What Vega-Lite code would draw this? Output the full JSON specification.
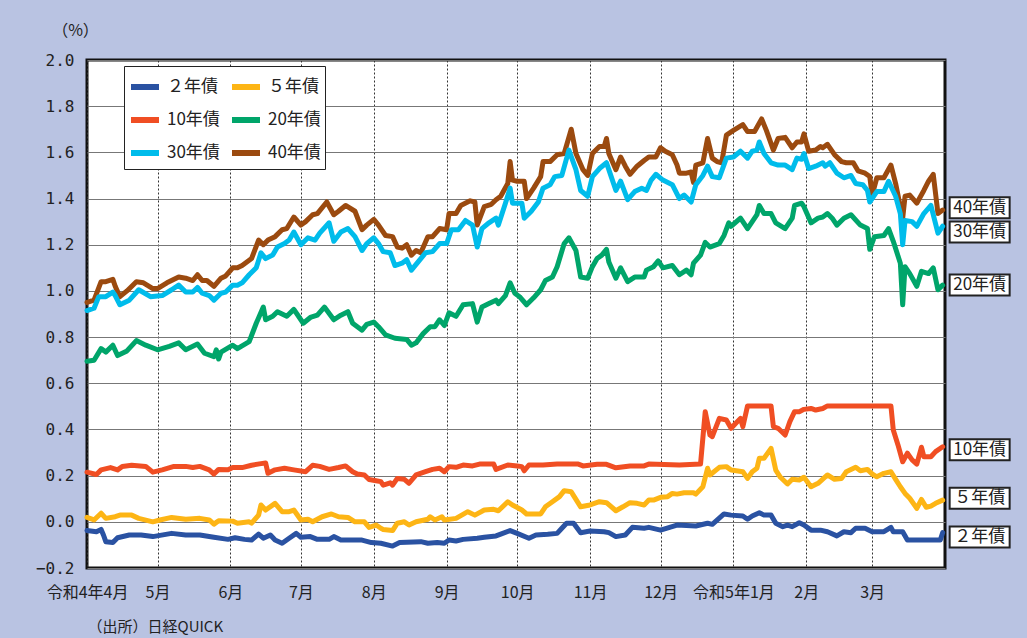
{
"$schema":"https://vega.github.io/schema/vega-lite/v6.json",
"width":858,"height":508,
"autosize":{"type":"none"},
"padding":{"left":87,"top":60,"right":82,"bottom":70},
"background":"#B9C3E2",
"config":{"view":{"fill":"white","stroke":"#111","strokeWidth":3},"font":"Noto Sans CJK JP"},
"datasets":{
"labels":[
{"s":"40年債","d":"2023-03-31","v":1.36},
{"s":"30年債","d":"2023-03-31","v":1.255},
{"s":"20年債","d":"2023-03-31","v":1.026},
{"s":"10年債","d":"2023-03-31","v":0.312},
{"s":"５年債","d":"2023-03-31","v":0.102},
{"s":"２年債","d":"2023-03-31","v":-0.066}
],
"yields":[
{"s":"40年債","d":"2022-04-01","v":0.95},{"s":"40年債","d":"2022-04-04","v":0.96},{"s":"40年債","d":"2022-04-07","v":1.04},{"s":"40年債","d":"2022-04-09","v":1.04},{"s":"40年債","d":"2022-04-12","v":1.05},{"s":"40年債","d":"2022-04-13","v":1.02},{"s":"40年債","d":"2022-04-15","v":0.975},{"s":"40年債","d":"2022-04-18","v":1.0},{"s":"40年債","d":"2022-04-22","v":1.04},{"s":"40年債","d":"2022-04-25","v":1.035},{"s":"40年債","d":"2022-04-29","v":1.01},{"s":"40年債","d":"2022-05-01","v":1.01},{"s":"40年債","d":"2022-05-05","v":1.035},{"s":"40年債","d":"2022-05-10","v":1.06},{"s":"40年債","d":"2022-05-13","v":1.055},{"s":"40年債","d":"2022-05-16","v":1.045},{"s":"40年債","d":"2022-05-18","v":1.07},{"s":"40年債","d":"2022-05-20","v":1.045},{"s":"40年債","d":"2022-05-22","v":1.045},{"s":"40年債","d":"2022-05-25","v":1.02},{"s":"40年債","d":"2022-05-28","v":1.055},{"s":"40年債","d":"2022-05-30","v":1.065},{"s":"40年債","d":"2022-06-02","v":1.1},{"s":"40年債","d":"2022-06-04","v":1.1},{"s":"40年債","d":"2022-06-06","v":1.11},{"s":"40年債","d":"2022-06-10","v":1.14},{"s":"40年債","d":"2022-06-13","v":1.22},{"s":"40年債","d":"2022-06-15","v":1.2},{"s":"40年債","d":"2022-06-17","v":1.22},{"s":"40年債","d":"2022-06-20","v":1.235},{"s":"40年債","d":"2022-06-23","v":1.265},{"s":"40年債","d":"2022-06-25","v":1.27},{"s":"40年債","d":"2022-06-28","v":1.32},{"s":"40年債","d":"2022-07-01","v":1.285},{"s":"40年債","d":"2022-07-03","v":1.3},{"s":"40年債","d":"2022-07-06","v":1.33},{"s":"40年債","d":"2022-07-08","v":1.335},{"s":"40年債","d":"2022-07-12","v":1.385},{"s":"40年債","d":"2022-07-15","v":1.33},{"s":"40年債","d":"2022-07-17","v":1.345},{"s":"40年債","d":"2022-07-20","v":1.37},{"s":"40年債","d":"2022-07-24","v":1.345},{"s":"40年債","d":"2022-07-27","v":1.265},{"s":"40年債","d":"2022-07-29","v":1.285},{"s":"40年債","d":"2022-08-01","v":1.31},{"s":"40年債","d":"2022-08-03","v":1.285},{"s":"40年債","d":"2022-08-06","v":1.24},{"s":"40年債","d":"2022-08-09","v":1.235},{"s":"40年債","d":"2022-08-11","v":1.19},{"s":"40年債","d":"2022-08-13","v":1.185},{"s":"40年債","d":"2022-08-15","v":1.2},{"s":"40年債","d":"2022-08-17","v":1.155},{"s":"40年債","d":"2022-08-19","v":1.175},{"s":"40年債","d":"2022-08-21","v":1.165},{"s":"40年債","d":"2022-08-24","v":1.235},{"s":"40年債","d":"2022-08-26","v":1.235},{"s":"40年債","d":"2022-08-29","v":1.27},{"s":"40年債","d":"2022-09-01","v":1.265},{"s":"40年債","d":"2022-09-02","v":1.335},{"s":"40年債","d":"2022-09-05","v":1.335},{"s":"40年債","d":"2022-09-07","v":1.37},{"s":"40年債","d":"2022-09-11","v":1.39},{"s":"40年債","d":"2022-09-13","v":1.385},{"s":"40年債","d":"2022-09-14","v":1.285},{"s":"40年債","d":"2022-09-17","v":1.365},{"s":"40年債","d":"2022-09-20","v":1.375},{"s":"40年債","d":"2022-09-22","v":1.395},{"s":"40年債","d":"2022-09-24","v":1.41},{"s":"40年債","d":"2022-09-27","v":1.465},{"s":"40年債","d":"2022-09-28","v":1.56},{"s":"40年債","d":"2022-09-29","v":1.48},{"s":"40年債","d":"2022-10-01","v":1.475},{"s":"40年債","d":"2022-10-04","v":1.475},{"s":"40年債","d":"2022-10-05","v":1.4},{"s":"40年債","d":"2022-10-08","v":1.445},{"s":"40年債","d":"2022-10-11","v":1.495},{"s":"40年債","d":"2022-10-12","v":1.56},{"s":"40年債","d":"2022-10-15","v":1.56},{"s":"40年債","d":"2022-10-18","v":1.59},{"s":"40年債","d":"2022-10-21","v":1.595},{"s":"40年債","d":"2022-10-24","v":1.7},{"s":"40年債","d":"2022-10-26","v":1.595},{"s":"40年債","d":"2022-10-29","v":1.525},{"s":"40年債","d":"2022-10-31","v":1.5},{"s":"40年債","d":"2022-11-02","v":1.595},{"s":"40年債","d":"2022-11-05","v":1.625},{"s":"40年債","d":"2022-11-07","v":1.625},{"s":"40年債","d":"2022-11-08","v":1.66},{"s":"40年債","d":"2022-11-09","v":1.595},{"s":"40年債","d":"2022-11-12","v":1.525},{"s":"40年債","d":"2022-11-14","v":1.58},{"s":"40年債","d":"2022-11-16","v":1.54},{"s":"40年債","d":"2022-11-18","v":1.505},{"s":"40年債","d":"2022-11-21","v":1.54},{"s":"40年債","d":"2022-11-24","v":1.565},{"s":"40年債","d":"2022-11-26","v":1.58},{"s":"40年債","d":"2022-11-29","v":1.58},{"s":"40年債","d":"2022-12-01","v":1.62},{"s":"40年債","d":"2022-12-03","v":1.605},{"s":"40年債","d":"2022-12-06","v":1.59},{"s":"40年債","d":"2022-12-08","v":1.545},{"s":"40年債","d":"2022-12-09","v":1.51},{"s":"40年債","d":"2022-12-12","v":1.51},{"s":"40年債","d":"2022-12-14","v":1.515},{"s":"40年債","d":"2022-12-15","v":1.47},{"s":"40年債","d":"2022-12-16","v":1.545},{"s":"40年債","d":"2022-12-19","v":1.555},{"s":"40年債","d":"2022-12-21","v":1.66},{"s":"40年債","d":"2022-12-23","v":1.575},{"s":"40年債","d":"2022-12-25","v":1.56},{"s":"40年債","d":"2022-12-27","v":1.555},{"s":"40年債","d":"2022-12-29","v":1.675},{"s":"40年債","d":"2023-01-01","v":1.695},{"s":"40年債","d":"2023-01-05","v":1.72},{"s":"40年債","d":"2023-01-07","v":1.69},{"s":"40年債","d":"2023-01-10","v":1.69},{"s":"40年債","d":"2023-01-13","v":1.745},{"s":"40年債","d":"2023-01-15","v":1.695},{"s":"40年債","d":"2023-01-18","v":1.61},{"s":"40年債","d":"2023-01-20","v":1.66},{"s":"40年債","d":"2023-01-23","v":1.665},{"s":"40年債","d":"2023-01-26","v":1.62},{"s":"40年債","d":"2023-01-28","v":1.645},{"s":"40年債","d":"2023-01-30","v":1.645},{"s":"40年債","d":"2023-01-31","v":1.68},{"s":"40年債","d":"2023-02-02","v":1.605},{"s":"40年債","d":"2023-02-05","v":1.61},{"s":"40年債","d":"2023-02-07","v":1.625},{"s":"40年債","d":"2023-02-08","v":1.62},{"s":"40年債","d":"2023-02-10","v":1.635},{"s":"40年債","d":"2023-02-13","v":1.59},{"s":"40年債","d":"2023-02-16","v":1.56},{"s":"40年債","d":"2023-02-18","v":1.555},{"s":"40年債","d":"2023-02-21","v":1.555},{"s":"40年債","d":"2023-02-23","v":1.52},{"s":"40年債","d":"2023-02-26","v":1.51},{"s":"40年債","d":"2023-02-28","v":1.495},{"s":"40年債","d":"2023-03-01","v":1.415},{"s":"40年債","d":"2023-03-03","v":1.49},{"s":"40年債","d":"2023-03-06","v":1.49},{"s":"40年債","d":"2023-03-09","v":1.545},{"s":"40年債","d":"2023-03-11","v":1.465},{"s":"40年債","d":"2023-03-13","v":1.365},{"s":"40年債","d":"2023-03-14","v":1.315},{"s":"40年債","d":"2023-03-15","v":1.41},{"s":"40年債","d":"2023-03-17","v":1.415},{"s":"40年債","d":"2023-03-20","v":1.38},{"s":"40年債","d":"2023-03-23","v":1.435},{"s":"40年債","d":"2023-03-25","v":1.475},{"s":"40年債","d":"2023-03-27","v":1.505},{"s":"40年債","d":"2023-03-29","v":1.335},{"s":"40年債","d":"2023-03-31","v":1.35},
{"s":"30年債","d":"2022-04-01","v":0.915},{"s":"30年債","d":"2022-04-04","v":0.925},{"s":"30年債","d":"2022-04-06","v":0.975},{"s":"30年債","d":"2022-04-09","v":0.975},{"s":"30年債","d":"2022-04-12","v":0.995},{"s":"30年債","d":"2022-04-13","v":0.98},{"s":"30年債","d":"2022-04-15","v":0.94},{"s":"30年債","d":"2022-04-19","v":0.96},{"s":"30年債","d":"2022-04-23","v":1.005},{"s":"30年債","d":"2022-04-28","v":0.975},{"s":"30年債","d":"2022-05-03","v":0.98},{"s":"30年債","d":"2022-05-07","v":1.005},{"s":"30年債","d":"2022-05-10","v":1.025},{"s":"30年債","d":"2022-05-13","v":0.995},{"s":"30年債","d":"2022-05-16","v":0.995},{"s":"30年債","d":"2022-05-18","v":1.015},{"s":"30年債","d":"2022-05-20","v":0.99},{"s":"30年債","d":"2022-05-23","v":0.98},{"s":"30年債","d":"2022-05-25","v":0.96},{"s":"30年債","d":"2022-05-28","v":0.99},{"s":"30年債","d":"2022-05-30","v":0.995},{"s":"30年債","d":"2022-06-02","v":1.025},{"s":"30年債","d":"2022-06-04","v":1.025},{"s":"30年債","d":"2022-06-06","v":1.035},{"s":"30年債","d":"2022-06-09","v":1.07},{"s":"30年債","d":"2022-06-12","v":1.1},{"s":"30年債","d":"2022-06-14","v":1.165},{"s":"30年債","d":"2022-06-16","v":1.14},{"s":"30年債","d":"2022-06-19","v":1.155},{"s":"30年債","d":"2022-06-21","v":1.19},{"s":"30年債","d":"2022-06-24","v":1.205},{"s":"30年債","d":"2022-06-26","v":1.22},{"s":"30年債","d":"2022-06-28","v":1.255},{"s":"30年債","d":"2022-07-01","v":1.2},{"s":"30年債","d":"2022-07-04","v":1.23},{"s":"30年債","d":"2022-07-07","v":1.22},{"s":"30年債","d":"2022-07-09","v":1.25},{"s":"30年債","d":"2022-07-13","v":1.295},{"s":"30年債","d":"2022-07-15","v":1.215},{"s":"30年債","d":"2022-07-18","v":1.255},{"s":"30年債","d":"2022-07-21","v":1.27},{"s":"30年債","d":"2022-07-24","v":1.235},{"s":"30年債","d":"2022-07-27","v":1.175},{"s":"30年債","d":"2022-07-29","v":1.205},{"s":"30年債","d":"2022-08-01","v":1.23},{"s":"30年債","d":"2022-08-03","v":1.205},{"s":"30年債","d":"2022-08-05","v":1.17},{"s":"30年債","d":"2022-08-08","v":1.165},{"s":"30年債","d":"2022-08-10","v":1.11},{"s":"30年債","d":"2022-08-13","v":1.12},{"s":"30年債","d":"2022-08-15","v":1.135},{"s":"30年債","d":"2022-08-17","v":1.09},{"s":"30年債","d":"2022-08-19","v":1.115},{"s":"30年債","d":"2022-08-23","v":1.165},{"s":"30年債","d":"2022-08-26","v":1.17},{"s":"30年債","d":"2022-08-29","v":1.205},{"s":"30年債","d":"2022-09-01","v":1.205},{"s":"30年債","d":"2022-09-03","v":1.265},{"s":"30年債","d":"2022-09-06","v":1.265},{"s":"30年債","d":"2022-09-09","v":1.305},{"s":"30年債","d":"2022-09-12","v":1.285},{"s":"30年債","d":"2022-09-14","v":1.19},{"s":"30年債","d":"2022-09-16","v":1.27},{"s":"30年債","d":"2022-09-19","v":1.295},{"s":"30年債","d":"2022-09-22","v":1.315},{"s":"30年債","d":"2022-09-23","v":1.285},{"s":"30年債","d":"2022-09-26","v":1.38},{"s":"30年債","d":"2022-09-28","v":1.445},{"s":"30年債","d":"2022-09-29","v":1.38},{"s":"30年債","d":"2022-10-03","v":1.38},{"s":"30年債","d":"2022-10-04","v":1.315},{"s":"30年債","d":"2022-10-07","v":1.345},{"s":"30年債","d":"2022-10-10","v":1.385},{"s":"30年債","d":"2022-10-12","v":1.445},{"s":"30年債","d":"2022-10-15","v":1.46},{"s":"30年債","d":"2022-10-17","v":1.495},{"s":"30年債","d":"2022-10-20","v":1.5},{"s":"30年債","d":"2022-10-23","v":1.61},{"s":"30年債","d":"2022-10-26","v":1.525},{"s":"30年債","d":"2022-10-28","v":1.435},{"s":"30年債","d":"2022-10-31","v":1.41},{"s":"30年債","d":"2022-11-02","v":1.495},{"s":"30年債","d":"2022-11-05","v":1.53},{"s":"30年債","d":"2022-11-08","v":1.555},{"s":"30年債","d":"2022-11-10","v":1.495},{"s":"30年債","d":"2022-11-12","v":1.435},{"s":"30年債","d":"2022-11-14","v":1.475},{"s":"30年債","d":"2022-11-17","v":1.395},{"s":"30年債","d":"2022-11-20","v":1.43},{"s":"30年債","d":"2022-11-23","v":1.445},{"s":"30年債","d":"2022-11-25","v":1.435},{"s":"30年債","d":"2022-11-27","v":1.48},{"s":"30年債","d":"2022-11-29","v":1.505},{"s":"30年債","d":"2022-12-02","v":1.48},{"s":"30年債","d":"2022-12-06","v":1.46},{"s":"30年債","d":"2022-12-09","v":1.4},{"s":"30年債","d":"2022-12-11","v":1.415},{"s":"30年債","d":"2022-12-14","v":1.385},{"s":"30年債","d":"2022-12-16","v":1.46},{"s":"30年債","d":"2022-12-19","v":1.5},{"s":"30年債","d":"2022-12-21","v":1.54},{"s":"30年債","d":"2022-12-23","v":1.495},{"s":"30年債","d":"2022-12-26","v":1.49},{"s":"30年債","d":"2022-12-29","v":1.575},{"s":"30年債","d":"2023-01-01","v":1.58},{"s":"30年債","d":"2023-01-04","v":1.605},{"s":"30年債","d":"2023-01-07","v":1.575},{"s":"30年債","d":"2023-01-09","v":1.605},{"s":"30年債","d":"2023-01-11","v":1.61},{"s":"30年債","d":"2023-01-12","v":1.645},{"s":"30年債","d":"2023-01-14","v":1.595},{"s":"30年債","d":"2023-01-17","v":1.555},{"s":"30年債","d":"2023-01-20","v":1.545},{"s":"30年債","d":"2023-01-23","v":1.545},{"s":"30年債","d":"2023-01-26","v":1.525},{"s":"30年債","d":"2023-01-28","v":1.575},{"s":"30年債","d":"2023-01-30","v":1.57},{"s":"30年債","d":"2023-01-31","v":1.595},{"s":"30年債","d":"2023-02-02","v":1.53},{"s":"30年債","d":"2023-02-05","v":1.54},{"s":"30年債","d":"2023-02-08","v":1.555},{"s":"30年債","d":"2023-02-09","v":1.54},{"s":"30年債","d":"2023-02-11","v":1.555},{"s":"30年債","d":"2023-02-14","v":1.51},{"s":"30年債","d":"2023-02-17","v":1.49},{"s":"30年債","d":"2023-02-20","v":1.5},{"s":"30年債","d":"2023-02-22","v":1.465},{"s":"30年債","d":"2023-02-25","v":1.46},{"s":"30年債","d":"2023-02-27","v":1.435},{"s":"30年債","d":"2023-02-28","v":1.385},{"s":"30年債","d":"2023-03-03","v":1.43},{"s":"30年債","d":"2023-03-06","v":1.43},{"s":"30年債","d":"2023-03-08","v":1.475},{"s":"30年債","d":"2023-03-11","v":1.41},{"s":"30年債","d":"2023-03-13","v":1.335},{"s":"30年債","d":"2023-03-14","v":1.2},{"s":"30年債","d":"2023-03-15","v":1.305},{"s":"30年債","d":"2023-03-18","v":1.3},{"s":"30年債","d":"2023-03-20","v":1.28},{"s":"30年債","d":"2023-03-23","v":1.335},{"s":"30年債","d":"2023-03-26","v":1.37},{"s":"30年債","d":"2023-03-29","v":1.25},{"s":"30年債","d":"2023-03-31","v":1.28},
{"s":"20年債","d":"2022-04-01","v":0.695},{"s":"20年債","d":"2022-04-04","v":0.7},{"s":"20年債","d":"2022-04-07","v":0.75},{"s":"20年債","d":"2022-04-09","v":0.735},{"s":"20年債","d":"2022-04-12","v":0.765},{"s":"20年債","d":"2022-04-14","v":0.72},{"s":"20年債","d":"2022-04-18","v":0.74},{"s":"20年債","d":"2022-04-22","v":0.785},{"s":"20年債","d":"2022-04-26","v":0.765},{"s":"20年債","d":"2022-05-01","v":0.745},{"s":"20年債","d":"2022-05-06","v":0.76},{"s":"20年債","d":"2022-05-10","v":0.775},{"s":"20年債","d":"2022-05-13","v":0.745},{"s":"20年債","d":"2022-05-18","v":0.77},{"s":"20年債","d":"2022-05-21","v":0.73},{"s":"20年債","d":"2022-05-25","v":0.715},{"s":"20年債","d":"2022-05-26","v":0.745},{"s":"20年債","d":"2022-05-27","v":0.705},{"s":"20年債","d":"2022-05-28","v":0.735},{"s":"20年債","d":"2022-06-02","v":0.765},{"s":"20年債","d":"2022-06-04","v":0.75},{"s":"20年債","d":"2022-06-09","v":0.78},{"s":"20年債","d":"2022-06-12","v":0.86},{"s":"20年債","d":"2022-06-15","v":0.93},{"s":"20年債","d":"2022-06-16","v":0.875},{"s":"20年債","d":"2022-06-19","v":0.89},{"s":"20年債","d":"2022-06-21","v":0.91},{"s":"20年債","d":"2022-06-25","v":0.89},{"s":"20年債","d":"2022-06-28","v":0.92},{"s":"20年債","d":"2022-07-02","v":0.86},{"s":"20年債","d":"2022-07-05","v":0.885},{"s":"20年債","d":"2022-07-08","v":0.895},{"s":"20年債","d":"2022-07-11","v":0.93},{"s":"20年債","d":"2022-07-15","v":0.875},{"s":"20年債","d":"2022-07-18","v":0.895},{"s":"20年債","d":"2022-07-21","v":0.91},{"s":"20年債","d":"2022-07-23","v":0.86},{"s":"20年債","d":"2022-07-27","v":0.83},{"s":"20年債","d":"2022-07-29","v":0.855},{"s":"20年債","d":"2022-08-01","v":0.865},{"s":"20年債","d":"2022-08-03","v":0.845},{"s":"20年債","d":"2022-08-06","v":0.81},{"s":"20年債","d":"2022-08-10","v":0.795},{"s":"20年債","d":"2022-08-15","v":0.79},{"s":"20年債","d":"2022-08-17","v":0.765},{"s":"20年債","d":"2022-08-19","v":0.775},{"s":"20年債","d":"2022-08-22","v":0.815},{"s":"20年債","d":"2022-08-25","v":0.845},{"s":"20年債","d":"2022-08-27","v":0.845},{"s":"20年債","d":"2022-08-29","v":0.875},{"s":"20年債","d":"2022-08-31","v":0.85},{"s":"20年債","d":"2022-09-02","v":0.905},{"s":"20年債","d":"2022-09-05","v":0.89},{"s":"20年債","d":"2022-09-08","v":0.94},{"s":"20年債","d":"2022-09-12","v":0.945},{"s":"20年債","d":"2022-09-14","v":0.865},{"s":"20年債","d":"2022-09-16","v":0.93},{"s":"20年債","d":"2022-09-19","v":0.945},{"s":"20年債","d":"2022-09-22","v":0.96},{"s":"20年債","d":"2022-09-23","v":0.945},{"s":"20年債","d":"2022-09-26","v":0.98},{"s":"20年債","d":"2022-09-28","v":1.035},{"s":"20年債","d":"2022-09-30","v":0.99},{"s":"20年債","d":"2022-10-02","v":0.975},{"s":"20年債","d":"2022-10-05","v":0.94},{"s":"20年債","d":"2022-10-08","v":0.97},{"s":"20年債","d":"2022-10-11","v":1.005},{"s":"20年債","d":"2022-10-13","v":1.045},{"s":"20年債","d":"2022-10-16","v":1.06},{"s":"20年債","d":"2022-10-18","v":1.105},{"s":"20年債","d":"2022-10-21","v":1.205},{"s":"20年債","d":"2022-10-23","v":1.23},{"s":"20年債","d":"2022-10-26","v":1.175},{"s":"20年債","d":"2022-10-28","v":1.06},{"s":"20年債","d":"2022-10-31","v":1.055},{"s":"20年債","d":"2022-11-02","v":1.105},{"s":"20年債","d":"2022-11-04","v":1.14},{"s":"20年債","d":"2022-11-06","v":1.155},{"s":"20年債","d":"2022-11-08","v":1.18},{"s":"20年債","d":"2022-11-09","v":1.125},{"s":"20年債","d":"2022-11-12","v":1.055},{"s":"20年債","d":"2022-11-14","v":1.1},{"s":"20年債","d":"2022-11-17","v":1.04},{"s":"20年債","d":"2022-11-20","v":1.06},{"s":"20年債","d":"2022-11-24","v":1.06},{"s":"20年債","d":"2022-11-25","v":1.09},{"s":"20年債","d":"2022-11-28","v":1.105},{"s":"20年債","d":"2022-11-30","v":1.13},{"s":"20年債","d":"2022-12-02","v":1.1},{"s":"20年債","d":"2022-12-06","v":1.11},{"s":"20年債","d":"2022-12-09","v":1.07},{"s":"20年債","d":"2022-12-12","v":1.09},{"s":"20年債","d":"2022-12-14","v":1.07},{"s":"20年債","d":"2022-12-15","v":1.12},{"s":"20年債","d":"2022-12-18","v":1.155},{"s":"20年債","d":"2022-12-20","v":1.21},{"s":"20年債","d":"2022-12-22","v":1.19},{"s":"20年債","d":"2022-12-26","v":1.205},{"s":"20年債","d":"2022-12-28","v":1.24},{"s":"20年債","d":"2022-12-30","v":1.295},{"s":"20年債","d":"2022-12-31","v":1.28},{"s":"20年債","d":"2023-01-04","v":1.315},{"s":"20年債","d":"2023-01-07","v":1.27},{"s":"20年債","d":"2023-01-09","v":1.3},{"s":"20年債","d":"2023-01-11","v":1.33},{"s":"20年債","d":"2023-01-12","v":1.37},{"s":"20年債","d":"2023-01-14","v":1.335},{"s":"20年債","d":"2023-01-17","v":1.335},{"s":"20年債","d":"2023-01-19","v":1.295},{"s":"20年債","d":"2023-01-23","v":1.27},{"s":"20年債","d":"2023-01-26","v":1.315},{"s":"20年債","d":"2023-01-27","v":1.37},{"s":"20年債","d":"2023-01-30","v":1.38},{"s":"20年債","d":"2023-01-31","v":1.365},{"s":"20年債","d":"2023-02-03","v":1.295},{"s":"20年債","d":"2023-02-06","v":1.315},{"s":"20年債","d":"2023-02-08","v":1.32},{"s":"20年債","d":"2023-02-10","v":1.335},{"s":"20年債","d":"2023-02-12","v":1.315},{"s":"20年債","d":"2023-02-14","v":1.285},{"s":"20年債","d":"2023-02-17","v":1.315},{"s":"20年債","d":"2023-02-20","v":1.33},{"s":"20年債","d":"2023-02-24","v":1.285},{"s":"20年債","d":"2023-02-27","v":1.27},{"s":"20年債","d":"2023-02-28","v":1.18},{"s":"20年債","d":"2023-03-02","v":1.235},{"s":"20年債","d":"2023-03-06","v":1.24},{"s":"20年債","d":"2023-03-08","v":1.27},{"s":"20年債","d":"2023-03-10","v":1.215},{"s":"20年債","d":"2023-03-13","v":1.12},{"s":"20年債","d":"2023-03-14","v":0.94},{"s":"20年債","d":"2023-03-15","v":1.105},{"s":"20年債","d":"2023-03-17","v":1.075},{"s":"20年債","d":"2023-03-20","v":1.02},{"s":"20年債","d":"2023-03-22","v":1.085},{"s":"20年債","d":"2023-03-25","v":1.075},{"s":"20年債","d":"2023-03-27","v":1.1},{"s":"20年債","d":"2023-03-29","v":1.005},{"s":"20年債","d":"2023-03-31","v":1.025},
{"s":"10年債","d":"2022-04-01","v":0.215},{"s":"10年債","d":"2022-04-05","v":0.205},{"s":"10年債","d":"2022-04-07","v":0.225},{"s":"10年債","d":"2022-04-11","v":0.235},{"s":"10年債","d":"2022-04-14","v":0.225},{"s":"10年債","d":"2022-04-16","v":0.24},{"s":"10年債","d":"2022-04-20","v":0.245},{"s":"10年債","d":"2022-04-26","v":0.24},{"s":"10年債","d":"2022-04-29","v":0.215},{"s":"10年債","d":"2022-05-03","v":0.225},{"s":"10年債","d":"2022-05-08","v":0.24},{"s":"10年債","d":"2022-05-13","v":0.24},{"s":"10年債","d":"2022-05-16","v":0.235},{"s":"10年債","d":"2022-05-19","v":0.24},{"s":"10年債","d":"2022-05-23","v":0.225},{"s":"10年債","d":"2022-05-25","v":0.207},{"s":"10年債","d":"2022-05-27","v":0.227},{"s":"10年債","d":"2022-05-31","v":0.225},{"s":"10年債","d":"2022-06-02","v":0.235},{"s":"10年債","d":"2022-06-06","v":0.235},{"s":"10年債","d":"2022-06-10","v":0.245},{"s":"10年債","d":"2022-06-14","v":0.252},{"s":"10年債","d":"2022-06-16","v":0.255},{"s":"10年債","d":"2022-06-17","v":0.21},{"s":"10年債","d":"2022-06-20","v":0.225},{"s":"10年債","d":"2022-06-24","v":0.232},{"s":"10年債","d":"2022-06-28","v":0.225},{"s":"10年債","d":"2022-07-03","v":0.217},{"s":"10年債","d":"2022-07-06","v":0.245},{"s":"10年債","d":"2022-07-09","v":0.24},{"s":"10年債","d":"2022-07-13","v":0.227},{"s":"10年債","d":"2022-07-17","v":0.235},{"s":"10年債","d":"2022-07-20","v":0.242},{"s":"10年債","d":"2022-07-23","v":0.217},{"s":"10年債","d":"2022-07-25","v":0.207},{"s":"10年債","d":"2022-07-28","v":0.203},{"s":"10年債","d":"2022-07-30","v":0.183},{"s":"10年債","d":"2022-08-02","v":0.178},{"s":"10年債","d":"2022-08-04","v":0.174},{"s":"10年債","d":"2022-08-05","v":0.159},{"s":"10年債","d":"2022-08-08","v":0.169},{"s":"10年債","d":"2022-08-09","v":0.159},{"s":"10年債","d":"2022-08-11","v":0.188},{"s":"10年債","d":"2022-08-14","v":0.184},{"s":"10年債","d":"2022-08-16","v":0.167},{"s":"10年債","d":"2022-08-19","v":0.203},{"s":"10年債","d":"2022-08-23","v":0.217},{"s":"10年債","d":"2022-08-26","v":0.227},{"s":"10年債","d":"2022-08-29","v":0.232},{"s":"10年債","d":"2022-08-31","v":0.217},{"s":"10年債","d":"2022-09-02","v":0.239},{"s":"10年債","d":"2022-09-05","v":0.236},{"s":"10年債","d":"2022-09-08","v":0.246},{"s":"10年債","d":"2022-09-12","v":0.242},{"s":"10年債","d":"2022-09-15","v":0.25},{"s":"10年債","d":"2022-09-21","v":0.25},{"s":"10年債","d":"2022-09-22","v":0.227},{"s":"10年債","d":"2022-09-27","v":0.246},{"s":"10年債","d":"2022-10-01","v":0.242},{"s":"10年債","d":"2022-10-03","v":0.239},{"s":"10年債","d":"2022-10-04","v":0.221},{"s":"10年債","d":"2022-10-06","v":0.246},{"s":"10年債","d":"2022-10-12","v":0.246},{"s":"10年債","d":"2022-10-18","v":0.25},{"s":"10年債","d":"2022-10-27","v":0.25},{"s":"10年債","d":"2022-10-29","v":0.242},{"s":"10年債","d":"2022-11-04","v":0.249},{"s":"10年債","d":"2022-11-08","v":0.249},{"s":"10年債","d":"2022-11-12","v":0.234},{"s":"10年債","d":"2022-11-18","v":0.242},{"s":"10年債","d":"2022-11-24","v":0.242},{"s":"10年債","d":"2022-11-26","v":0.25},{"s":"10年債","d":"2022-12-09","v":0.246},{"s":"10年債","d":"2022-12-18","v":0.25},{"s":"10年債","d":"2022-12-20","v":0.477},{"s":"10年債","d":"2022-12-22","v":0.376},{"s":"10年債","d":"2022-12-23","v":0.369},{"s":"10年債","d":"2022-12-26","v":0.448},{"s":"10年債","d":"2022-12-29","v":0.441},{"s":"10年債","d":"2022-12-31","v":0.405},{"s":"10年債","d":"2023-01-02","v":0.427},{"s":"10年債","d":"2023-01-04","v":0.448},{"s":"10年債","d":"2023-01-05","v":0.412},{"s":"10年債","d":"2023-01-07","v":0.502},{"s":"10年債","d":"2023-01-17","v":0.502},{"s":"10年債","d":"2023-01-18","v":0.412},{"s":"10年債","d":"2023-01-20","v":0.405},{"s":"10年債","d":"2023-01-23","v":0.376},{"s":"10年債","d":"2023-01-25","v":0.434},{"s":"10年債","d":"2023-01-27","v":0.477},{"s":"10年債","d":"2023-01-29","v":0.477},{"s":"10年債","d":"2023-01-31","v":0.487},{"s":"10年債","d":"2023-02-03","v":0.491},{"s":"10年債","d":"2023-02-05","v":0.484},{"s":"10年債","d":"2023-02-08","v":0.491},{"s":"10年債","d":"2023-02-10","v":0.502},{"s":"10年債","d":"2023-03-09","v":0.502},{"s":"10年債","d":"2023-03-10","v":0.398},{"s":"10年債","d":"2023-03-12","v":0.333},{"s":"10年債","d":"2023-03-14","v":0.26},{"s":"10年債","d":"2023-03-16","v":0.297},{"s":"10年債","d":"2023-03-18","v":0.268},{"s":"10年債","d":"2023-03-20","v":0.25},{"s":"10年債","d":"2023-03-22","v":0.323},{"s":"10年債","d":"2023-03-23","v":0.282},{"s":"10年債","d":"2023-03-26","v":0.282},{"s":"10年債","d":"2023-03-28","v":0.304},{"s":"10年債","d":"2023-03-31","v":0.325},
{"s":"５年債","d":"2022-04-01","v":0.019},{"s":"５年債","d":"2022-04-04","v":0.008},{"s":"５年債","d":"2022-04-07","v":0.037},{"s":"５年債","d":"2022-04-09","v":0.015},{"s":"５年債","d":"2022-04-13","v":0.022},{"s":"５年債","d":"2022-04-15","v":0.029},{"s":"５年債","d":"2022-04-20","v":0.029},{"s":"５年債","d":"2022-04-23","v":0.015},{"s":"５年債","d":"2022-04-29","v":0.0},{"s":"５年債","d":"2022-05-02","v":0.008},{"s":"５年債","d":"2022-05-07","v":0.019},{"s":"５年債","d":"2022-05-13","v":0.011},{"s":"５年債","d":"2022-05-19","v":0.015},{"s":"５年債","d":"2022-05-23","v":0.008},{"s":"５年債","d":"2022-05-25","v":-0.01},{"s":"５年債","d":"2022-05-27","v":0.005},{"s":"５年債","d":"2022-06-02","v":0.003},{"s":"５年債","d":"2022-06-04","v":-0.006},{"s":"５年債","d":"2022-06-09","v":0.0},{"s":"５年債","d":"2022-06-10","v":-0.006},{"s":"５年債","d":"2022-06-13","v":0.029},{"s":"５年債","d":"2022-06-14","v":0.073},{"s":"５年債","d":"2022-06-16","v":0.051},{"s":"５年債","d":"2022-06-20","v":0.08},{"s":"５年債","d":"2022-06-23","v":0.044},{"s":"５年債","d":"2022-06-26","v":0.044},{"s":"５年債","d":"2022-06-28","v":0.051},{"s":"５年債","d":"2022-07-01","v":0.008},{"s":"５年債","d":"2022-07-04","v":0.011},{"s":"５年債","d":"2022-07-06","v":0.0},{"s":"５年債","d":"2022-07-10","v":0.022},{"s":"５年債","d":"2022-07-14","v":0.034},{"s":"５年債","d":"2022-07-17","v":0.022},{"s":"５年債","d":"2022-07-21","v":0.019},{"s":"５年債","d":"2022-07-24","v":0.0},{"s":"５年債","d":"2022-07-28","v":0.0},{"s":"５年債","d":"2022-07-30","v":-0.024},{"s":"５年債","d":"2022-08-02","v":-0.014},{"s":"５年債","d":"2022-08-04","v":-0.028},{"s":"５年債","d":"2022-08-05","v":-0.033},{"s":"５年債","d":"2022-08-09","v":-0.038},{"s":"５年債","d":"2022-08-11","v":-0.006},{"s":"５年債","d":"2022-08-14","v":0.0},{"s":"５年債","d":"2022-08-16","v":-0.014},{"s":"５年債","d":"2022-08-19","v":0.0},{"s":"５年債","d":"2022-08-24","v":0.011},{"s":"５年債","d":"2022-08-25","v":0.022},{"s":"５年債","d":"2022-08-27","v":0.008},{"s":"５年債","d":"2022-08-30","v":0.022},{"s":"５年債","d":"2022-08-31","v":0.008},{"s":"５年債","d":"2022-09-05","v":0.015},{"s":"５年債","d":"2022-09-10","v":0.044},{"s":"５年債","d":"2022-09-13","v":0.029},{"s":"５年債","d":"2022-09-17","v":0.051},{"s":"５年債","d":"2022-09-21","v":0.054},{"s":"５年債","d":"2022-09-23","v":0.048},{"s":"５年債","d":"2022-09-27","v":0.087},{"s":"５年債","d":"2022-09-29","v":0.073},{"s":"５年債","d":"2022-10-03","v":0.051},{"s":"５年債","d":"2022-10-05","v":0.034},{"s":"５年債","d":"2022-10-11","v":0.034},{"s":"５年債","d":"2022-10-13","v":0.065},{"s":"５年債","d":"2022-10-16","v":0.087},{"s":"５年債","d":"2022-10-19","v":0.109},{"s":"５年債","d":"2022-10-21","v":0.135},{"s":"５年債","d":"2022-10-24","v":0.13},{"s":"５年債","d":"2022-10-28","v":0.065},{"s":"５年債","d":"2022-11-01","v":0.073},{"s":"５年債","d":"2022-11-05","v":0.087},{"s":"５年債","d":"2022-11-08","v":0.083},{"s":"５年債","d":"2022-11-12","v":0.048},{"s":"５年債","d":"2022-11-15","v":0.065},{"s":"５年債","d":"2022-11-18","v":0.083},{"s":"５年債","d":"2022-11-21","v":0.08},{"s":"５年債","d":"2022-11-24","v":0.073},{"s":"５年債","d":"2022-11-26","v":0.094},{"s":"５年債","d":"2022-11-28","v":0.094},{"s":"５年債","d":"2022-12-01","v":0.106},{"s":"５年債","d":"2022-12-04","v":0.109},{"s":"５年債","d":"2022-12-06","v":0.123},{"s":"５年債","d":"2022-12-08","v":0.12},{"s":"５年債","d":"2022-12-11","v":0.126},{"s":"５年債","d":"2022-12-15","v":0.126},{"s":"５年債","d":"2022-12-16","v":0.12},{"s":"５年債","d":"2022-12-19","v":0.152},{"s":"５年債","d":"2022-12-21","v":0.232},{"s":"５年債","d":"2022-12-22","v":0.203},{"s":"５年債","d":"2022-12-26","v":0.236},{"s":"５年債","d":"2022-12-29","v":0.239},{"s":"５年債","d":"2022-12-31","v":0.224},{"s":"５年債","d":"2023-01-05","v":0.217},{"s":"５年債","d":"2023-01-07","v":0.188},{"s":"５年債","d":"2023-01-09","v":0.217},{"s":"５年債","d":"2023-01-11","v":0.232},{"s":"５年債","d":"2023-01-12","v":0.275},{"s":"５年債","d":"2023-01-14","v":0.275},{"s":"５年債","d":"2023-01-17","v":0.318},{"s":"５年債","d":"2023-01-19","v":0.224},{"s":"５年債","d":"2023-01-21","v":0.193},{"s":"５年債","d":"2023-01-24","v":0.164},{"s":"５年債","d":"2023-01-26","v":0.184},{"s":"５年債","d":"2023-01-29","v":0.181},{"s":"５年債","d":"2023-01-31","v":0.193},{"s":"５年債","d":"2023-02-03","v":0.152},{"s":"５年債","d":"2023-02-06","v":0.167},{"s":"５年債","d":"2023-02-10","v":0.203},{"s":"５年債","d":"2023-02-13","v":0.184},{"s":"５年債","d":"2023-02-16","v":0.188},{"s":"５年債","d":"2023-02-18","v":0.217},{"s":"５年債","d":"2023-02-22","v":0.236},{"s":"５年債","d":"2023-02-24","v":0.221},{"s":"５年債","d":"2023-02-27","v":0.227},{"s":"５年債","d":"2023-03-01","v":0.207},{"s":"５年債","d":"2023-03-03","v":0.195},{"s":"５年債","d":"2023-03-06","v":0.21},{"s":"５年債","d":"2023-03-09","v":0.217},{"s":"５年債","d":"2023-03-11","v":0.184},{"s":"５年債","d":"2023-03-13","v":0.152},{"s":"５年債","d":"2023-03-15","v":0.123},{"s":"５年債","d":"2023-03-17","v":0.102},{"s":"５年債","d":"2023-03-20","v":0.058},{"s":"５年債","d":"2023-03-22","v":0.097},{"s":"５年債","d":"2023-03-24","v":0.063},{"s":"５年債","d":"2023-03-26","v":0.068},{"s":"５年債","d":"2023-03-28","v":0.08},{"s":"５年債","d":"2023-03-31","v":0.094},
{"s":"２年債","d":"2022-04-01","v":-0.038},{"s":"２年債","d":"2022-04-05","v":-0.043},{"s":"２年債","d":"2022-04-07","v":-0.033},{"s":"２年債","d":"2022-04-08","v":-0.057},{"s":"２年債","d":"2022-04-09","v":-0.086},{"s":"２年債","d":"2022-04-12","v":-0.09},{"s":"２年債","d":"2022-04-14","v":-0.069},{"s":"２年債","d":"2022-04-19","v":-0.057},{"s":"２年債","d":"2022-04-24","v":-0.057},{"s":"２年債","d":"2022-04-29","v":-0.064},{"s":"２年債","d":"2022-05-07","v":-0.05},{"s":"２年債","d":"2022-05-13","v":-0.057},{"s":"２年債","d":"2022-05-19","v":-0.057},{"s":"２年債","d":"2022-05-25","v":-0.067},{"s":"２年債","d":"2022-05-31","v":-0.076},{"s":"２年債","d":"2022-06-03","v":-0.069},{"s":"２年債","d":"2022-06-07","v":-0.076},{"s":"２年債","d":"2022-06-10","v":-0.079},{"s":"２年債","d":"2022-06-13","v":-0.053},{"s":"２年債","d":"2022-06-15","v":-0.071},{"s":"２年債","d":"2022-06-18","v":-0.057},{"s":"２年債","d":"2022-06-20","v":-0.079},{"s":"２年債","d":"2022-06-23","v":-0.093},{"s":"２年債","d":"2022-06-26","v":-0.071},{"s":"２年債","d":"2022-06-29","v":-0.05},{"s":"２年債","d":"2022-07-01","v":-0.067},{"s":"２年債","d":"2022-07-05","v":-0.064},{"s":"２年債","d":"2022-07-08","v":-0.076},{"s":"２年債","d":"2022-07-13","v":-0.076},{"s":"２年債","d":"2022-07-15","v":-0.064},{"s":"２年債","d":"2022-07-18","v":-0.079},{"s":"２年債","d":"2022-07-27","v":-0.079},{"s":"２年債","d":"2022-07-31","v":-0.09},{"s":"２年債","d":"2022-08-04","v":-0.093},{"s":"２年債","d":"2022-08-09","v":-0.105},{"s":"２年債","d":"2022-08-12","v":-0.09},{"s":"２年債","d":"2022-08-21","v":-0.086},{"s":"２年債","d":"2022-08-24","v":-0.093},{"s":"２年債","d":"2022-08-28","v":-0.09},{"s":"２年債","d":"2022-08-31","v":-0.093},{"s":"２年債","d":"2022-09-02","v":-0.079},{"s":"２年債","d":"2022-09-05","v":-0.083},{"s":"２年債","d":"2022-09-08","v":-0.076},{"s":"２年債","d":"2022-09-14","v":-0.071},{"s":"２年債","d":"2022-09-17","v":-0.067},{"s":"２年債","d":"2022-09-22","v":-0.061},{"s":"２年債","d":"2022-09-24","v":-0.053},{"s":"２年債","d":"2022-09-28","v":-0.038},{"s":"２年債","d":"2022-10-01","v":-0.05},{"s":"２年債","d":"2022-10-06","v":-0.071},{"s":"２年債","d":"2022-10-09","v":-0.057},{"s":"２年債","d":"2022-10-14","v":-0.054},{"s":"２年債","d":"2022-10-18","v":-0.05},{"s":"２年債","d":"2022-10-20","v":-0.028},{"s":"２年債","d":"2022-10-22","v":-0.006},{"s":"２年債","d":"2022-10-25","v":-0.006},{"s":"２年債","d":"2022-10-28","v":-0.047},{"s":"２年債","d":"2022-11-01","v":-0.04},{"s":"２年債","d":"2022-11-07","v":-0.043},{"s":"２年債","d":"2022-11-09","v":-0.047},{"s":"２年債","d":"2022-11-12","v":-0.064},{"s":"２年債","d":"2022-11-16","v":-0.057},{"s":"２年債","d":"2022-11-19","v":-0.024},{"s":"２年債","d":"2022-11-24","v":-0.028},{"s":"２年債","d":"2022-11-26","v":-0.024},{"s":"２年債","d":"2022-12-01","v":-0.036},{"s":"２年債","d":"2022-12-08","v":-0.014},{"s":"２年債","d":"2022-12-16","v":-0.018},{"s":"２年債","d":"2022-12-21","v":-0.006},{"s":"２年債","d":"2022-12-23","v":-0.011},{"s":"２年債","d":"2022-12-28","v":0.034},{"s":"２年債","d":"2022-12-31","v":0.029},{"s":"２年債","d":"2023-01-05","v":0.025},{"s":"２年債","d":"2023-01-07","v":0.011},{"s":"２年債","d":"2023-01-09","v":0.025},{"s":"２年債","d":"2023-01-12","v":0.039},{"s":"２年債","d":"2023-01-14","v":0.029},{"s":"２年債","d":"2023-01-17","v":0.029},{"s":"２年債","d":"2023-01-19","v":-0.006},{"s":"２年債","d":"2023-01-22","v":-0.021},{"s":"２年債","d":"2023-01-24","v":-0.014},{"s":"２年債","d":"2023-01-26","v":-0.021},{"s":"２年債","d":"2023-01-29","v":-0.004},{"s":"２年債","d":"2023-01-31","v":-0.014},{"s":"２年債","d":"2023-02-03","v":-0.036},{"s":"２年債","d":"2023-02-07","v":-0.036},{"s":"２年債","d":"2023-02-10","v":-0.043},{"s":"２年債","d":"2023-02-14","v":-0.061},{"s":"２年債","d":"2023-02-17","v":-0.043},{"s":"２年債","d":"2023-02-20","v":-0.047},{"s":"２年債","d":"2023-02-22","v":-0.028},{"s":"２年債","d":"2023-02-26","v":-0.028},{"s":"２年債","d":"2023-03-01","v":-0.043},{"s":"２年債","d":"2023-03-06","v":-0.043},{"s":"２年債","d":"2023-03-09","v":-0.024},{"s":"２年債","d":"2023-03-10","v":-0.043},{"s":"２年債","d":"2023-03-14","v":-0.043},{"s":"２年債","d":"2023-03-16","v":-0.079},{"s":"２年債","d":"2023-03-30","v":-0.079},{"s":"２年債","d":"2023-03-31","v":-0.047}
]},
"encoding":{
"x":{"field":"d","type":"temporal",
"scale":{"type":"utc","domain":[{"year":2022,"month":4,"date":1,"utc":true},{"year":2023,"month":4,"date":1,"utc":true}]},
"axis":{"values":[{"year":2022,"month":4,"date":1,"utc":true},{"year":2022,"month":5,"date":1,"utc":true},{"year":2022,"month":6,"date":1,"utc":true},{"year":2022,"month":7,"date":1,"utc":true},{"year":2022,"month":8,"date":1,"utc":true},{"year":2022,"month":9,"date":1,"utc":true},{"year":2022,"month":10,"date":1,"utc":true},{"year":2022,"month":11,"date":1,"utc":true},{"year":2022,"month":12,"date":1,"utc":true},{"year":2023,"month":1,"date":1,"utc":true},{"year":2023,"month":2,"date":1,"utc":true},{"year":2023,"month":3,"date":1,"utc":true}],
"labelExpr":"utcmonth(datum.value)==3 && utcyear(datum.value)==2022 ? '令和4年4月' : utcmonth(datum.value)==0 ? '令和5年1月' : (utcmonth(datum.value)+1)+'月'",
"labelFont":"Noto Sans CJK JP","labelFontSize":16,"labelColor":"#222","labelFlush":false,"labelOverlap":false,"labelPadding":16,
"ticks":false,"domain":false,"gridDash":[2,2],"gridColor":"#333","gridWidth":1,
"title":"（出所）日経QUICK","titleAnchor":"start","titleAlign":"left","titleX":0,"titleY":58,"titleBaseline":"middle","titleFont":"Noto Sans CJK JP","titleFontSize":15,"titleFontWeight":"normal","titleColor":"#222"}},
"y":{"field":"v","type":"quantitative",
"scale":{"domain":[-0.2,2.0],"nice":false,"zero":false},
"axis":{"values":[-0.2,0,0.2,0.4,0.6,0.8,1,1.2,1.4,1.6,1.8,2],"format":".1f","labelFont":"DejaVu Sans Mono","labelFontSize":16,"labelColor":"#222","ticks":false,"domain":false,"labelPadding":13,"gridColor":"#777","gridWidth":1,
"title":"（%）","titleAngle":0,"titleX":-12,"titleY":-30,"titleAlign":"center","titleBaseline":"middle","titleFont":"Noto Sans CJK JP","titleFontSize":16,"titleFontWeight":"normal","titleColor":"#222"}}
},
"layer":[
{"data":{"name":"yields"},
"mark":{"type":"line","strokeWidth":5,"strokeCap":"round","strokeJoin":"round"},
"encoding":{"color":{"field":"s","type":"nominal",
"scale":{"domain":["２年債","５年債","10年債","20年債","30年債","40年債"],"range":["#2A52A2","#FDB515","#F04E23","#00A56A","#00BCEB","#9B4A0F"]},
"legend":{"orient":"none","legendX":37,"legendY":6,"columns":2,"direction":"horizontal","title":null,"symbolType":"stroke","symbolStrokeWidth":6,"symbolSize":784,"labelFont":"Noto Sans CJK JP","labelFontSize":17,"labelColor":"#222","labelOffset":5,"rowPadding":4,"columnPadding":0,"padding":4,"strokeColor":"#222","fillColor":"white","cornerRadius":0,"symbolOpacity":1}}}},
{"data":{"name":"labels"},
"mark":{"type":"point","shape":"M-1,-0.35H1V0.35H-1Z","size":3600,"filled":true,"fill":"white","stroke":"#222","strokeWidth":2,"opacity":1,"xOffset":37}},
{"data":{"name":"labels"},
"mark":{"type":"text","xOffset":37,"font":"Noto Sans CJK JP","fontSize":17,"color":"#222","align":"center","baseline":"middle"},
"encoding":{"text":{"field":"s"}}}
]
}
